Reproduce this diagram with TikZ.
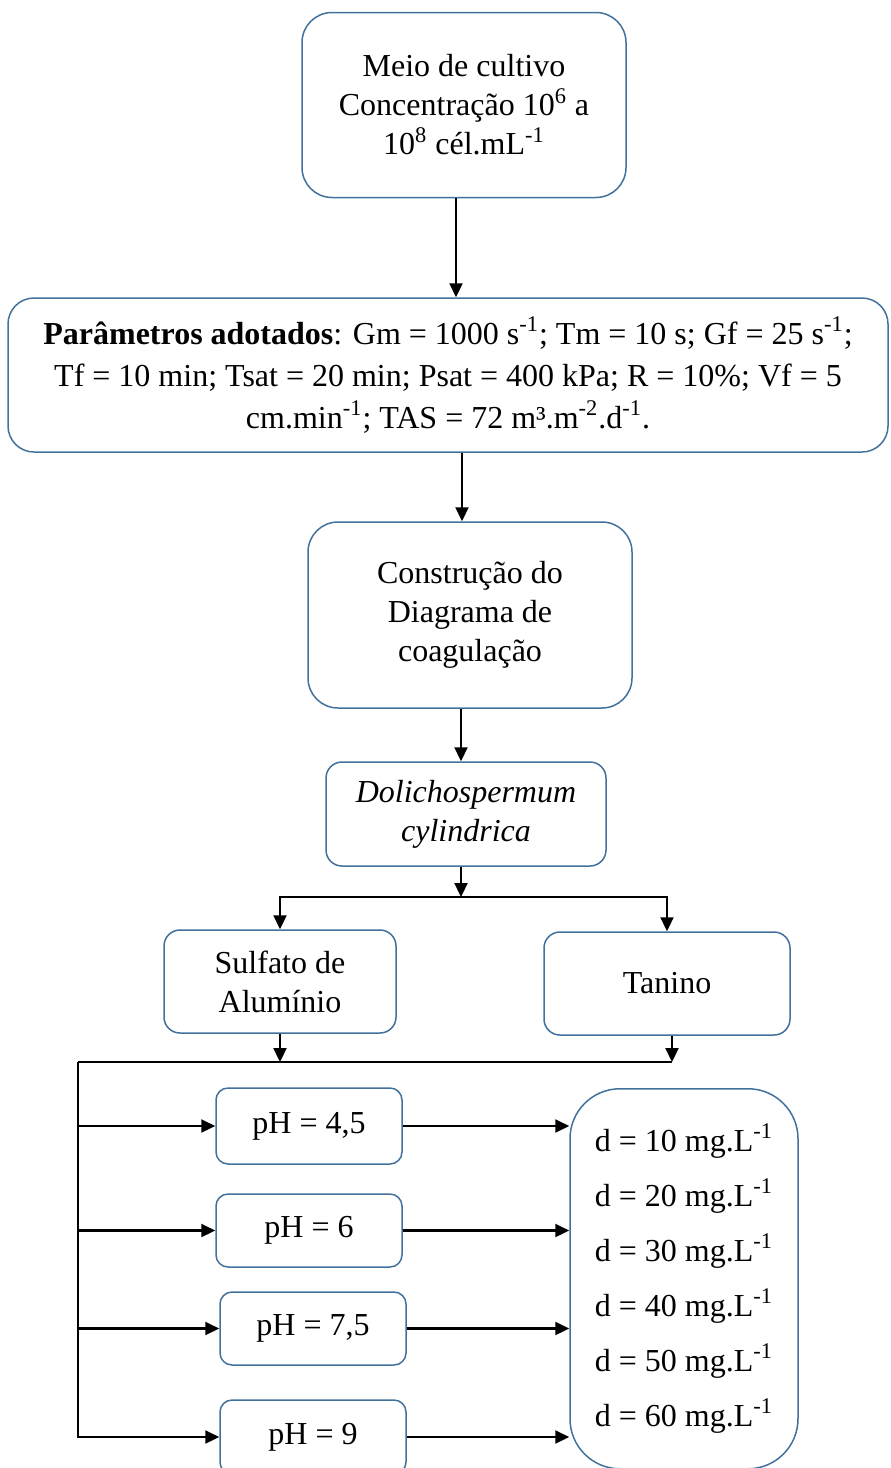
\documentclass[tikz,border=0pt]{standalone}
\usepackage{fontspec}
\setmainfont{Liberation Serif}
\usetikzlibrary{arrows.meta,positioning}
\definecolor{boxline}{RGB}{65,113,156}

\tikzset{
  box/.style={draw=boxline, line width=0.75pt, rounded corners=#1, align=center,
    font=\fontsize{16}{19.5}\selectfont, inner sep=2pt},
  box/.default=7pt,
  arr/.style={line width=1.1pt, -{Triangle[length=7pt,width=6.5pt]}},
  wire/.style={line width=1.1pt}
}

\begin{document}
\begin{tikzpicture}[x=0.5pt, y=-0.5pt]
    \clip (0,0) rectangle (890,1468);
    \node[box=15pt, minimum width=162pt, minimum height=92.5pt] (meio) at (464,105)
        {Meio de cultivo\\Concentração 10\textsuperscript{6} a\\10\textsuperscript{8} cél.mL\textsuperscript{-1}};
    \node[box=13pt, minimum width=440pt, minimum height=77pt,
          font=\fontsize{16}{21}\selectfont] (param) at (448,375)
        {\textbf{Parâmetros adotados}: Gm = 1000 s\textsuperscript{-1}; Tm = 10 s; Gf = 25 s\textsuperscript{-1};\\
         Tf = 10 min; Tsat = 20 min; Psat = 400 kPa; R = 10\%; Vf = 5\\
         cm.min\textsuperscript{-1}; TAS = 72 m³.m\textsuperscript{-2}.d\textsuperscript{-1}.};
    \node[box=15pt, minimum width=162pt, minimum height=93pt] (diag) at (470,615)
        {Construção do\\Diagrama de\\coagulação};
    \node[box=8pt, minimum width=140pt, minimum height=52pt] (dolicho) at (466,814)
        {\textit{Dolichospermum}\\\textit{cylindrica}};
    \node[box=8pt, minimum width=116pt, minimum height=51.5pt] (sulfato) at (280,981.5)
        {Sulfato de\\Alumínio};
    \node[box=8pt, minimum width=123pt, minimum height=51.5pt] (tanino) at (667,983.5)
        {Tanino};
    \node[box=6pt, minimum width=93pt, minimum height=38pt] (ph1) at (309,1126) {pH = 4,5};
    \node[box=6pt, minimum width=93pt, minimum height=36.5pt] (ph2) at (309,1230.5) {pH = 6};
    \node[box=6pt, minimum width=93pt, minimum height=36.5pt] (ph3) at (313,1328.5) {pH = 7,5};
    \node[box=6pt, minimum width=93pt, minimum height=37pt] (ph4) at (313,1437) {pH = 9};
    \node[box=25pt, minimum width=114pt, minimum height=190pt, anchor=north] (doses) at (684,1088)
        {d = 10 mg.L\textsuperscript{-1}\\[8pt]
         d = 20 mg.L\textsuperscript{-1}\\[8pt]
         d = 30 mg.L\textsuperscript{-1}\\[8pt]
         d = 40 mg.L\textsuperscript{-1}\\[8pt]
         d = 50 mg.L\textsuperscript{-1}\\[8pt]
         d = 60 mg.L\textsuperscript{-1}};
    \coordinate (split) at (461,897);
    \coordinate (bus) at (78,1062);
    % vertical flow
    \draw[arr] ([xshift=-4pt]meio.south) -- ([xshift=-4pt]meio.south |- param.north);
    \draw[arr] ([xshift=-4pt]diag.north |- param.south) -- ([xshift=-4pt]diag.north);
    \draw[arr] ([xshift=-2.5pt]dolicho.north |- diag.south) -- ([xshift=-2.5pt]dolicho.north);
    \draw[arr] (dolicho.south -| split) -- (split);
    \draw[arr] (split) -| (sulfato.north);
    \draw[arr] (split) -| (tanino.north);
    % coagulants to pH
    \draw[arr] (sulfato.south) -- (sulfato.south |- bus);
    \draw[arr] ([xshift=2.5pt]tanino.south) -- ([xshift=2.5pt]tanino.south |- bus);
    \draw[wire] (bus) -- ([xshift=2.5pt]tanino.south |- bus);
    \draw[arr] (bus) |- (ph4.west);
    \foreach \p in {ph1,ph2,ph3} {
        \draw[arr] (bus |- \p.west) -- (\p.west);
    }
    \foreach \p in {ph1,ph2,ph3,ph4} {
        \draw[arr] (\p.east) -- (\p.east -| doses.west);
    }
\end{tikzpicture}
\end{document}
